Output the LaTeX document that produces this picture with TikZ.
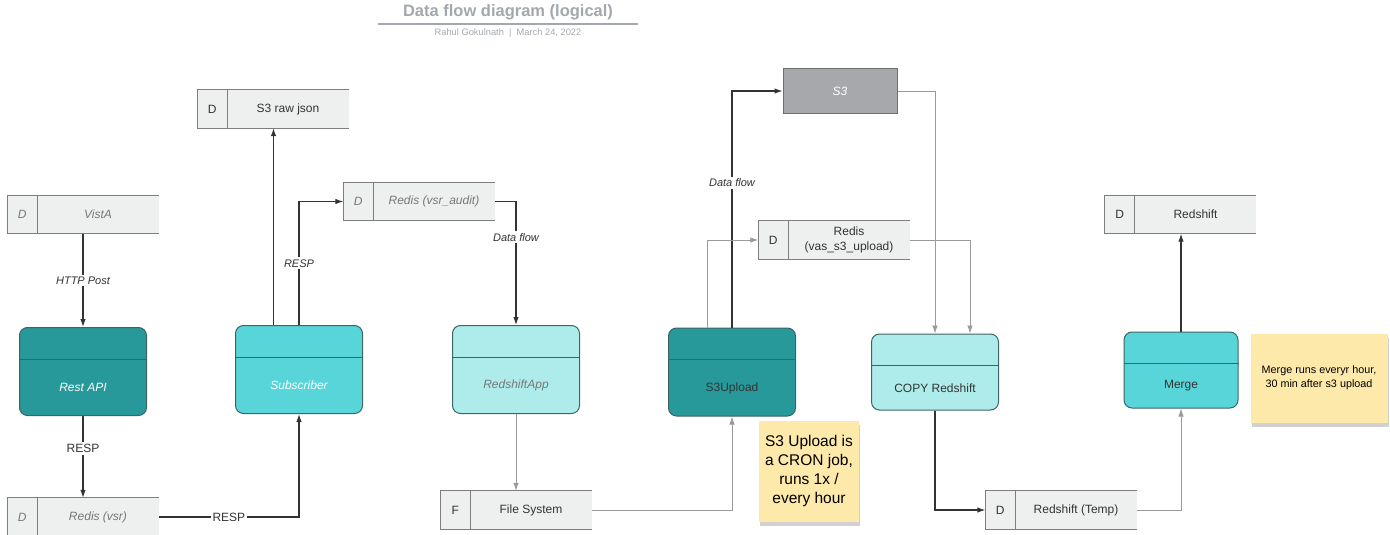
\documentclass[tikz,border=0pt]{standalone}
\usepackage{fontspec}
\setmainfont{Liberation Sans}
\usetikzlibrary{calc}
\usetikzlibrary{arrows.meta,shadows}

\definecolor{darkteal}{HTML}{27999A}
\definecolor{midteal}{HTML}{58D5D8}
\definecolor{lightteal}{HTML}{AEECEC}
\definecolor{procedge}{HTML}{3F6466}
\definecolor{storefill}{HTML}{EEF0F0}
\definecolor{storeedge}{HTML}{7E7E7E}
\definecolor{stickyfill}{HTML}{FDE9A9}
\definecolor{titlegray}{HTML}{A3A8AE}
\definecolor{flowdark}{HTML}{333333}
\definecolor{flowlight}{HTML}{9A9A9A}
\definecolor{textgray}{HTML}{777777}
\definecolor{s3fill}{HTML}{A7A8AB}
\definecolor{s3edge}{HTML}{6E6E6E}

\tikzset{
  store/.style={rectangle, fill=storefill, minimum width=151pt, minimum height=38pt, inner sep=0pt},
  storeline/.style={draw=storeedge, line width=1pt},
  proc/.style={rectangle, rounded corners=8pt, draw=procedge, line width=1pt, minimum width=127pt, minimum height=88pt, inner sep=0pt},
  lbldark/.style={inner sep=0pt, align=center, text=flowdark, font=\fontsize{12}{15}\selectfont},
  lblgray/.style={inner sep=0pt, align=center, text=textgray, font=\fontsize{12}{15}\selectfont\itshape},
  lblwhite/.style={inner sep=0pt, align=center, text=white, font=\fontsize{12}{15}\selectfont\itshape},
  flow/.style={draw=flowdark, line width=1.05pt, -{Latex[length=8pt,width=5.5pt]}},
  flowthin/.style={draw=flowlight, line width=0.85pt, -{Latex[length=8pt,width=5.5pt]}},
  elbl/.style={fill=white, inner sep=2pt, text=flowdark, font=\fontsize{11}{13}\selectfont\itshape},
  elblup/.style={fill=white, inner sep=2pt, text=flowdark, font=\fontsize{12}{14}\selectfont},
  sticky/.style={fill=stickyfill, inner sep=0pt, align=center, text=black,
    drop shadow={shadow xshift=1pt, shadow yshift=-4pt, opacity=0.18, fill=black}}
}

% data store: name, centre, letter, text, text style
\newcommand{\dstore}[5]{%
  \node[store] (#1) at (#2) {};
  \draw[storeline] (#1.north east) -- (#1.north west) -- (#1.south west) -- (#1.south east);
  \draw[storeline] ([xshift=30pt]#1.north west) -- ([xshift=30pt]#1.south west);
  \node[#5] (#1-l) at ([xshift=15pt]#1.west) {#3};
  \node[#5] (#1-t) at ([xshift=15pt]#1.center) {#4};
}
% process: name, centre, box style, text style, text
\newcommand{\process}[5]{%
  \node[proc, #3] (#1) at (#2) {};
  \draw[draw=procedge, line width=1pt] ([yshift=-32pt]#1.north west) -- ([yshift=-32pt]#1.north east);
  \node[#4] (#1-t) at ($([yshift=-32pt]#1.north)!0.5!(#1.south)$) {#5};
}

\begin{document}
\begin{tikzpicture}[x=1pt,y=-1pt]
        \useasboundingbox (0,0) rectangle (1390,535);
        % title
        \node[font=\fontsize{16.5}{20}\selectfont\bfseries, text=titlegray] (title) at (508,12) {Data flow diagram (logical)};
        \coordinate (rule-l) at (378,24);
        \coordinate (rule-r) at (638,24);
        \draw[titlegray, line width=1.5pt] (rule-l) -- (rule-r);
        \node[font=\fontsize{9.3}{11}\selectfont, text=titlegray] (byline) at (508,33) {Rahul Gokulnath \ | \ March 24, 2022};

        % stores
        \dstore{sraw}{273,109}{D}{S3 raw json}{lbldark}
        \dstore{vista}{83,214.5}{D}{VistA}{lblgray}
        \dstore{raudit}{419,201.5}{D}{Redis (vsr\_audit)}{lblgray}
        \dstore{rvsr}{83,517}{D}{Redis (vsr)}{lblgray}
        \dstore{fs}{516,510}{F}{File System}{lbldark}
        \dstore{rvas}{834,240}{D}{Redis\\(vas\_s3\_upload)}{lbldark}
        \dstore{rshift}{1180.5,214.5}{D}{Redshift}{lbldark}
        \dstore{rtemp}{1061,510}{D}{Redshift (Temp)}{lbldark}

        % processes
        \process{restapi}{83,371.5}{fill=darkteal}{lblwhite}{Rest API}
        \process{sub}{299,369.5}{fill=midteal}{lblwhite}{Subscriber}
        \process{rapp}{516,369.5}{fill=lightteal}{lblgray}{RedshiftApp}
        \process{s3up}{732,372}{fill=darkteal}{lbldark}{S3Upload}
        \process{copy}{935,372}{fill=lightteal, minimum height=76pt}{lbldark}{COPY Redshift}
        \process{merge}{1181,370}{fill=midteal, minimum width=114pt, minimum height=76pt}{lbldark}{Merge}

        \node[lblwhite, fill=s3fill, draw=s3edge, line width=1pt, minimum width=114pt, minimum height=44pt] (s3) at (840,91) {S3};

        % notes
        \node[sticky, minimum width=100pt, minimum height=101pt, font=\fontsize{15.5}{19}\selectfont] (note1) at (809,471) {S3 Upload is\\a CRON job,\\runs 1x /\\every hour};
        \node[sticky, minimum width=137pt, minimum height=89pt, font=\fontsize{10.8}{14}\selectfont] (note2) at (1319,378) {Merge runs everyr hour,\\30 min after s3 upload};

        % flows
        \draw[flow] (vista.south) -- node[elbl]{HTTP Post} (restapi.north);
        \draw[flow] (restapi.south) -- node[elblup, pos=0.4]{RESP} (rvsr.north);
        \draw[flow] (rvsr.east) -| node[elblup, pos=0.25]{RESP} (sub.south);
        \draw[flow] ([xshift=-25.5pt]sub.north) -- ([xshift=-25.5pt]sub.north |- sraw.south);
        \draw[flow] (sub.north) |- node[elbl, pos=0.25]{RESP} (raudit.west);
        \draw[flow] (raudit.east) -| node[elbl, pos=0.645]{Data flow} (rapp.north);
        \draw[flowthin] (rapp.south) -- (fs.north);
        \draw[flowthin] (fs.east) -| (s3up.south);
        \draw[flow] (s3up.north) |- node[elbl, pos=0.306]{Data flow} (s3.west);
        \draw[flowthin] ([xshift=-24.5pt]s3up.north) |- (rvas.west);
        \draw[flowthin] (s3.east) -| (copy.north);
        \draw[flowthin] (rvas.east) -| ([xshift=35pt]copy.north);
        \draw[flow] (copy.south) |- (rtemp.west);
        \draw[flowthin] (rtemp.east) -| (merge.south);
        \draw[flow] (merge.north) -- (merge.north |- rshift.south);
\end{tikzpicture}
\end{document}
